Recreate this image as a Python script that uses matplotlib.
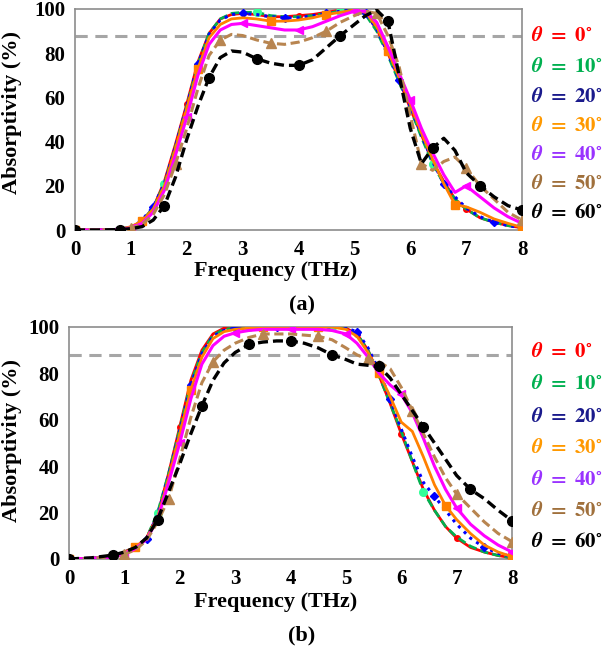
import matplotlib
matplotlib.use("Agg")
import matplotlib.pyplot as plt

plt.rcParams['font.family'] = ['Liberation Serif', 'DejaVu Serif']
plt.rcParams['font.weight'] = 'bold'
plt.rcParams['mathtext.fontset'] = 'stix'

freq = [0, 0.4, 0.8, 1.0, 1.2, 1.4, 1.6, 1.8, 2.0, 2.2, 2.4, 2.6, 2.8, 3.0,
        3.25, 3.5, 3.75, 4.0, 4.25, 4.5, 4.75, 5.0, 5.2, 5.4, 5.6, 5.8, 6.0,
        6.2, 6.4, 6.6, 6.8, 7.0, 7.25, 7.5, 7.75, 8.0]

angles = ['0', '10', '20', '30', '40', '50', '60']

# panel (a)
a_0 = [0, 0, 0.3, 1.2, 4, 10, 22, 39, 57, 76, 89, 95.5, 97.5, 98, 97.5, 96.5, 96.5, 97,
       97.5, 98.5, 99.5, 99.8, 98, 91, 80, 68, 55, 43, 31, 22, 14, 9.5, 5.5, 3.5, 2, 1]
a_10 = [0, 0, 0.3, 1.2, 4, 10, 21, 38, 56, 75, 89, 95.5, 98, 98.5, 98.5, 97, 96.5, 96.5,
        97, 98, 99, 99.5, 97.5, 90, 79, 67, 55, 42, 30, 21, 14, 9.5, 5.5, 3.5, 2, 1]
a_20 = [0, 0, 0.3, 1.3, 4.5, 10.5, 21, 38, 56, 75, 88.5, 95, 97.5, 98, 97.5, 96.5, 96, 96,
        97, 98, 99, 99.5, 98, 91, 80, 68, 56, 43, 31, 21, 15, 10, 6, 3.5, 2, 1]
a_30 = [0, 0, 0.3, 1.5, 4, 9.5, 20, 37, 55, 73, 87, 93, 95.5, 96, 95.5, 94.5, 94.5, 95,
        96, 97.5, 98.5, 99.5, 98.5, 92, 81, 69, 57, 44, 32, 21, 11.5, 10.5, 8, 5, 3, 1.2]
a_40 = [0, 0, 0.2, 1, 3, 8, 18, 34, 51, 70, 84, 90.5, 93, 93.5, 92.5, 91.5, 90.5, 90.5,
        92, 94.5, 97, 99, 99, 94, 83, 71, 59, 46, 35, 25, 17, 20, 15, 10, 6, 3]
a_50 = [0, 0, 0.2, 0.8, 2.5, 7, 16, 30, 46, 64, 79, 86, 88.5, 88, 86, 84.5, 84, 85,
        87, 90, 94, 97, 99, 98, 88, 74, 52, 30, 27, 31, 33, 28, 20, 14, 8, 4.5]
a_60 = [0, 0, 0.2, 0.6, 1.5, 4.5, 11, 24, 41, 56, 69, 78, 81, 80.5, 77.5, 75.5, 74.5, 74.5,
        77, 82.5, 88, 93, 97, 99.5, 94.5, 70, 46, 30, 37, 41.5, 36, 26, 20, 15, 11, 9]

# panel (b)
b_0 = [0, 0.3, 1, 3, 5, 9, 19, 37, 57, 77, 90, 97, 99.5, 100, 100, 100, 100, 100,
       100, 100, 100, 99.5, 97, 90, 79, 67, 54, 42, 30, 21, 14, 9, 5, 3, 1.5, 0.5]
b_10 = [0, 0.3, 1, 3, 5, 9, 20, 37, 56, 76, 89, 96.5, 99, 99.5, 100, 100, 100, 100,
        100, 100, 100, 99.5, 97, 90, 79, 67, 55, 42, 29, 21, 14, 9.5, 5.5, 3, 1.5, 0.5]
b_20 = [0, 0.3, 1, 3, 5, 8.5, 19, 36, 55, 75, 88.5, 96, 98.5, 99.5, 100, 100, 100, 100,
        100, 100, 100, 99.5, 98, 91, 81, 69, 56, 44, 33, 27, 21, 15, 9, 5, 2.5, 1]
b_30 = [0, 0.3, 1, 3, 5, 9, 18, 35, 54, 73, 87, 95, 98, 99, 99.5, 100, 100, 100,
        100, 100, 100, 99, 96, 89, 80, 70, 59, 55, 44, 32, 23, 17, 11, 6, 3, 1]
b_40 = [0, 0.3, 0.8, 2, 4.5, 8.5, 17, 33, 50, 69, 84, 92, 96, 97.5, 98.5, 99, 99, 99,
        99, 99, 98.5, 97, 93, 87, 80, 75, 71, 63, 52, 40, 30, 22, 15, 10, 6, 3]
b_50 = [0, 0.3, 0.8, 2, 4, 8, 16, 26, 43, 61, 76, 85, 90, 93, 95.5, 97, 97, 97,
        96.5, 96, 94.5, 91, 88, 86, 85, 82, 74, 64, 54, 44, 35, 28, 22, 16, 11, 7.5]
b_60 = [0, 0.5, 1.7, 3, 5, 9, 17, 29, 41, 54, 66, 77, 84.5, 89, 92.5, 93.5, 94, 94,
        93, 91, 88, 86, 84, 83.5, 83, 78, 71, 64, 57, 50, 43, 36, 30, 26, 21, 16.5]

threshold = 88

series_a = [a_0, a_10, a_20, a_30, a_40, a_50, a_60]
series_b = [b_0, b_10, b_20, b_30, b_40, b_50, b_60]

# styles per angle
styles = [
    dict(color='#ff0000', mfc='#ff0000', ls='-', marker='o', ms=4, lw=2,
         markevery=[0, 8, 17, 22, 26, 31, 35]),
    dict(color='#00b050', mfc='#33ff99', ls=(0, (3, 1.5)), marker='o', ms=5.5, lw=2,
         markevery=[0, 6, 14, 20, 28, 35]),
    dict(color='#0000ff', mfc='#0000ff', ls=':', marker='D', ms=4, lw=2.2,
         markevery=[0, 5, 9, 13, 16, 19, 22, 25, 29, 33]),
    dict(color='#ff8000', mfc='#ff8000', ls='-', marker='s', ms=6, lw=2,
         markevery=[0, 4, 9, 15, 19, 24, 30, 35]),
    dict(color='#ff00ff', mfc='#ff00ff', ls='-', marker='<', ms=6, lw=2.2,
         markevery=[3, 8, 13, 17, 21, 26, 31, 35]),
    dict(color='#b88550', mfc='#b88550', ls=(0, (3, 1.5)), marker='^', ms=7, lw=2.2,
         markevery=[0, 3, 7, 11, 15, 19, 23, 27, 31, 35]),
    dict(color='#000000', mfc='#000000', ls=(0, (3, 1.5)), marker='o', ms=7, lw=2.4,
         markevery=[0, 2, 6, 10, 14, 17, 20, 24, 28, 32, 35]),
]

label_colors = ['#ff0000', '#00b050', '#1a1a8c', '#ff9900', '#9933ff', '#a0703c', '#000000']

fig = plt.figure(figsize=(6.03, 6.49), dpi=100)
W, H = 603, 649


def make_axes(box, series, ylab_y, xlab_y, tag, tag_y, leg_ys):
    l, t, r, b = box
    ax = fig.add_axes([l / W, 1 - b / H, (r - l) / W, (b - t) / H])
    ax.axhline(threshold, color='#a6a6a6', lw=2.2, ls=(0, (4, 2.5)), zorder=1)
    for ys, st in zip(series, styles):
        ax.plot(freq, ys, color=st['color'], ls=st['ls'], lw=st['lw'],
                marker=st['marker'], ms=st['ms'], mfc=st['mfc'], mec=st['mfc'],
                markevery=st['markevery'], zorder=3)
    ax.set_xlim(0, 8)
    ax.set_ylim(0, 100)
    ax.set_xticks(range(0, 9))
    ax.set_yticks(range(0, 101, 20))
    ax.tick_params(length=0, labelsize=15, pad=7)
    for lbl in ax.get_xticklabels() + ax.get_yticklabels():
        lbl.set_fontweight('bold')
    for sp in ax.spines.values():
        sp.set_color('#8c8c8c')
        sp.set_linewidth(1.2)
    fig.text(12 / W, 1 - ylab_y / H, 'Absorptivity (%)', rotation=90, fontsize=16,
             fontweight='bold', ha='center', va='center')
    fig.text(276 / W, 1 - xlab_y / H, 'Frequency (THz)', fontsize=16,
             fontweight='bold', ha='center', va='center')
    fig.text(302 / W, 1 - tag_y / H, tag, fontsize=16, fontweight='bold',
             ha='center', va='center')
    for ang, c, yy in zip(angles, label_colors, leg_ys):
        lab = r'$\boldsymbol{\theta}\ \mathbf{=}\ \mathbf{' + ang + r'}^{\circ}$'
        fig.text(531 / W, 1 - yy / H, lab, color=c,
                 fontsize=15, ha='left', va='center')
    return ax


make_axes((75, 9, 522, 230), series_a, 112, 271, '(a)', 305,
          [36, 67, 97, 126, 155, 184, 213])
make_axes((69, 327, 512, 559), series_b, 440, 602, '(b)', 635,
          [352, 384, 417, 448, 480, 511, 542])

fig.savefig('out.png', dpi=100)
